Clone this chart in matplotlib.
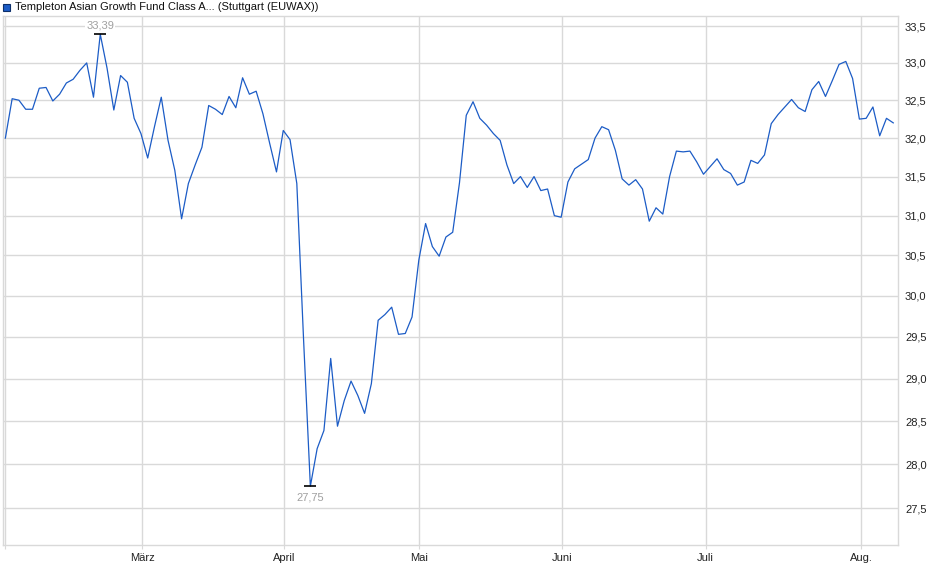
import matplotlib
matplotlib.use("Agg")
import matplotlib.pyplot as plt
import matplotlib.ticker as mticker
from matplotlib.patches import Rectangle
import numpy as np

plt.rcParams['font.family'] = ['Liberation Sans', 'DejaVu Sans']

title = "Templeton Asian Growth Fund Class A... (Stuttgart (EUWAX))"

# daily closing prices (trading days, Feb - Aug)
prices = [
    32.00, 32.52, 32.50, 32.38, 32.38, 32.66, 32.67, 32.49, 32.58, 32.73,
    32.78, 32.90, 33.00, 32.54, 33.39, 32.93, 32.37, 32.83, 32.74, 32.26,
    32.06, 31.74, 32.15, 32.54, 31.97, 31.58, 30.96, 31.41, 31.65, 31.88,
    32.43, 32.38, 32.31, 32.55, 32.40, 32.80, 32.58, 32.62, 32.32, 31.93,
    31.56, 32.10, 31.98, 31.41, 29.46, 27.75, 28.18, 28.39, 29.24, 28.44,
    28.74, 28.97, 28.80, 28.59, 28.94, 29.70, 29.77, 29.86, 29.53, 29.54,
    29.74, 30.44, 30.90, 30.61, 30.49, 30.73, 30.79, 31.42, 32.30, 32.48,
    32.26, 32.17, 32.06, 31.97, 31.65, 31.41, 31.50, 31.36, 31.50, 31.32,
    31.34, 31.00, 30.98, 31.43, 31.60, 31.66, 31.72, 32.00, 32.15, 32.11,
    31.84, 31.47, 31.39, 31.46, 31.34, 30.93, 31.10, 31.02, 31.50, 31.83,
    31.82, 31.83, 31.69, 31.53, 31.63, 31.73, 31.59, 31.54, 31.39, 31.43,
    31.71, 31.67, 31.78, 32.19, 32.31, 32.41, 32.51, 32.40, 32.35, 32.64,
    32.75, 32.55, 32.76, 32.98, 33.02, 32.79, 32.25, 32.26, 32.41, 32.03,
    32.26, 32.20,
]

months = ["März", "April", "Mai", "Juni", "Juli", "Aug."]
month_start = [20.2, 41.1, 61.0, 82.1, 103.3, 126.3]  # in trading-day index
y_ticks = [27.5, 28.0, 28.5, 29.0, 29.5, 30.0, 30.5, 31.0, 31.5, 32.0, 32.5, 33.0, 33.5]

line_col = "#1c5cc6"
grid_col = "#d9d9d9"

x = np.arange(len(prices))
p = np.array(prices)

fig = plt.figure(figsize=(9.4, 5.79), dpi=100)
ax = fig.add_axes([3 / 940, 1 - 545 / 579, 895 / 940, 529 / 579])

ax.plot(x, p, color=line_col, lw=0.9, zorder=3)

ax.set_yscale('log')
ax.set_ylim(27.09, 33.64)
ax.set_xlim(-0.35, 131.7)

ax.yaxis.set_major_locator(mticker.FixedLocator(y_ticks))
ax.yaxis.set_minor_locator(mticker.NullLocator())
ax.yaxis.set_major_formatter(mticker.FuncFormatter(lambda v, pos: f"{v:.1f}".replace(".", ",")))
ax.yaxis.tick_right()
ax.set_xticks([0] + month_start)
ax.set_xticklabels([""] + months)

ax.grid(True, color=grid_col, lw=1.0, zorder=0)
for s in ax.spines.values():
    s.set_color(grid_col)
    s.set_linewidth(1.0)
ax.tick_params(axis='both', colors=grid_col, labelcolor="#222222", labelsize=8, length=3)
ax.tick_params(axis='y', length=0, pad=5)
ax.tick_params(axis='x', pad=3)

# high / low markers
i_hi = int(np.argmax(p))
i_lo = int(np.argmin(p))
ax.plot([x[i_hi], x[i_lo]], [p[i_hi], p[i_lo]], ls='none', marker='_', ms=8, mew=1.2,
        color='black', zorder=4)
ax.annotate(f"{p[i_hi]:.2f}".replace(".", ","), (x[i_hi], p[i_hi]), xytext=(0, 9),
            textcoords='offset pixels', ha='center', va='center', fontsize=8, color="#a0a0a0",
            bbox=dict(boxstyle='square,pad=0.1', fc='white', ec='none'), zorder=5)
ax.annotate(f"{p[i_lo]:.2f}".replace(".", ","), (x[i_lo], p[i_lo]), xytext=(0, -11),
            textcoords='offset pixels', ha='center', va='center', fontsize=8, color="#a0a0a0",
            zorder=5)

# legend-like title
fig.add_artist(Rectangle((3 / 940, 1 - 11 / 579), 7 / 940, 7 / 579, transform=fig.transFigure,
                         fc=line_col, ec="#0d2f6a", lw=0.8))
fig.text(15 / 940, 1 - 7.5 / 579, title, fontsize=8, color="#111111", va='center', ha='left')

fig.savefig("out.png", dpi=100)
